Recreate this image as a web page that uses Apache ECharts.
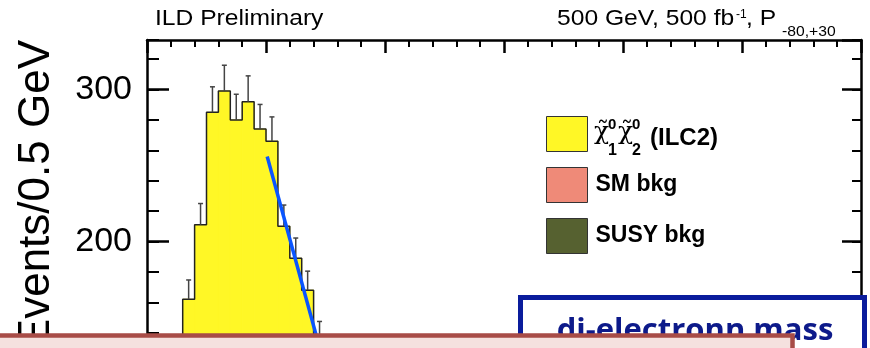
<!DOCTYPE html>
<html><head><meta charset="utf-8">
<script src="https://cdn.jsdelivr.net/npm/echarts@6/dist/echarts.min.js"></script>
<style>html,body{margin:0;padding:0;background:#fff}#c{width:870px;height:348px}</style>
</head><body><div id="c"></div>
<script>
// ---- data ----
const binEdges = [1.5, 2.0, 2.5, 3.0, 3.5, 4.0, 4.5, 5.0, 5.5, 6.0, 6.5, 7.0, 7.5];
const signalCounts = [162, 211, 285, 299, 280, 292, 274, 266, 210, 189, 168, 136];
const signalErrors = [12.7, 14, 16.8, 17, 16.9, 17, 16.2, 16, 14, 13.3, 12.5, 11.4];
const smBkg = [];
const susyBkg = [];
const fitX = [5.05, 7.5];
const fitY = [256, 116];
const seriesNames = ['signal', 'SM bkg', 'SUSY bkg'];
const yMin = 100, yMax = 332.6, xMin = 0, xMax = 30;

const histData = signalCounts.map((v, i) => [binEdges[i], binEdges[i + 1], v]);
const outline = [[binEdges[0], yMin]];
signalCounts.forEach((v, i) => { outline.push([binEdges[i], v], [binEdges[i + 1], v]); });
outline.push([binEdges[binEdges.length - 1], yMin]);
const errData = signalCounts.map((v, i) => [(binEdges[i] + binEdges[i + 1]) / 2, v, v + signalErrors[i]]);
const fitData = fitX.map((x, i) => [x, fitY[i]]);

const FONT = 'Liberation Sans';
const chart = echarts.init(document.getElementById('c'));
const yAxisBase = {type: 'value', min: yMin, max: yMax, splitLine: {show: false}, axisLabel: {show: false}};
chart.setOption({
  animation: false,
  textStyle: {fontFamily: FONT},
  grid: {left: 147, top: 40, width: 714, height: 353.5, outerBoundsMode: 'none', containLabel: false},
  xAxis: [{
    type: 'value', min: xMin, max: xMax, interval: 5, position: 'top',
    axisLine: {show: true, lineStyle: {color: '#000', width: 2.5}},
    axisTick: {show: true, inside: true, length: 13, lineStyle: {color: '#000', width: 2.5}},
    minorTick: {show: true, splitNumber: 5, length: 7, lineStyle: {color: '#000', width: 2}},
    axisLabel: {show: false}, splitLine: {show: false}
  }],
  yAxis: [
    Object.assign({}, yAxisBase, {position: 'left', interval: 100,
      axisLine: {show: true, lineStyle: {color: '#000', width: 2.5}},
      axisTick: {show: true, inside: true, length: 22, lineStyle: {color: '#000', width: 2.5}},
      axisLabel: {show: true, fontSize: 34, color: '#000', margin: 15, showMaxLabel: false, showMinLabel: false}}),
    Object.assign({}, yAxisBase, {position: 'left', interval: 20,
      axisLine: {show: false},
      axisTick: {show: true, inside: true, length: 12, lineStyle: {color: '#000', width: 2}}}),
    Object.assign({}, yAxisBase, {position: 'right', interval: 100,
      axisLine: {show: true, lineStyle: {color: '#000', width: 2.5}},
      axisTick: {show: true, inside: true, length: 19, lineStyle: {color: '#000', width: 2.5}}}),
    Object.assign({}, yAxisBase, {position: 'right', interval: 20,
      axisLine: {show: false},
      axisTick: {show: true, inside: true, length: 9, lineStyle: {color: '#000', width: 2}}})
  ],
  legend: {
    orient: 'vertical', left: 546, top: 116, padding: 0, itemWidth: 41, itemHeight: 35, itemGap: 15,
    icon: 'rect', selectedMode: false, data: seriesNames,
    itemStyle: {borderColor: '#333', borderWidth: 1},
    formatter: n => n === 'signal' ? '' : n,
    textStyle: {fontFamily: FONT, fontWeight: 'bold', fontSize: 23, color: '#000', padding: [0, 0, 0, 3]}
  },
  series: [
    {name: 'signal', type: 'custom', data: histData, encode: {x: [0, 1], y: 2}, z: 2,
      itemStyle: {color: '#fff726'},
      renderItem: (params, api) => {
        const p0 = api.coord([api.value(0), api.value(2)]);
        const p1 = api.coord([api.value(1), yMin]);
        return {type: 'rect', shape: {x: p0[0], y: p0[1], width: p1[0] - p0[0], height: p1[1] - p0[1]},
          style: {fill: '#fff726', stroke: '#fff726', lineWidth: 1}};
      }},
    {name: 'SM bkg', type: 'bar', data: smBkg, itemStyle: {color: '#ef8a78'}},
    {name: 'SUSY bkg', type: 'bar', data: susyBkg, itemStyle: {color: '#566130'}},
    {name: 'outline', type: 'line', data: outline, symbol: 'none', z: 3,
      lineStyle: {color: '#222', width: 1.5}},
    {name: 'errors', type: 'custom', data: errData, encode: {x: 0, y: [1, 2]}, z: 4,
      renderItem: (params, api) => {
        const a = api.coord([api.value(0), api.value(1)]);
        const b = api.coord([api.value(0), api.value(2)]);
        const st = {stroke: '#444', lineWidth: 1.5};
        return {type: 'group', children: [
          {type: 'line', shape: {x1: a[0], y1: a[1], x2: b[0], y2: b[1]}, style: st},
          {type: 'line', shape: {x1: b[0] - 2.5, y1: b[1], x2: b[0] + 2.5, y2: b[1]}, style: st}
        ]};
      }},
    {name: 'fit', type: 'line', data: fitData, symbol: 'none', z: 5,
      lineStyle: {color: '#0a55ff', width: 3.5}}
  ],
  graphic: [
    {type: 'text', x: 37, y: 40, rotation: Math.PI / 2, z: 50,
      style: {text: 'Events/0.5 GeV', font: '44px ' + FONT, fill: '#000', align: 'right', verticalAlign: 'middle'}},
    {type: 'text', x: 155, y: 19, scaleX: 1.12, z: 50,
      style: {text: 'ILD Preliminary', font: '22px ' + FONT, fill: '#000', align: 'left', verticalAlign: 'middle'}},
    {type: 'text', x: 557, y: 19, scaleX: 1.12, z: 50,
      style: {text: '500 GeV, 500 fb', font: '22px ' + FONT, fill: '#000', align: 'left', verticalAlign: 'middle'}},
    {type: 'text', x: 736, y: 15, z: 50,
      style: {text: '-1', font: '12px ' + FONT, fill: '#000', align: 'left', verticalAlign: 'middle'}},
    {type: 'text', x: 746, y: 19, scaleX: 1.12, z: 50,
      style: {text: ', P', font: '22px ' + FONT, fill: '#000', align: 'left', verticalAlign: 'middle'}},
    {type: 'text', x: 782, y: 32, scaleX: 1.12, z: 50,
      style: {text: '-80,+30', font: '14px ' + FONT, fill: '#000', align: 'left', verticalAlign: 'middle'}},
    // legend label of signal
    {type: 'text', x: 594, y: 132, z: 50,
      style: {text: 'χ\u0303', font: '25px "DejaVu Serif"', fill: '#000', align: 'left', verticalAlign: 'middle'}},
    {type: 'text', x: 608, y: 125, z: 50,
      style: {text: '0', font: 'bold 15px ' + FONT, fill: '#000', align: 'left', verticalAlign: 'middle'}},
    {type: 'text', x: 608, y: 151, z: 50,
      style: {text: '1', font: 'bold 16px ' + FONT, fill: '#000', align: 'left', verticalAlign: 'middle'}},
    {type: 'text', x: 618, y: 132, z: 50,
      style: {text: 'χ\u0303', font: '25px "DejaVu Serif"', fill: '#000', align: 'left', verticalAlign: 'middle'}},
    {type: 'text', x: 632, y: 125, z: 50,
      style: {text: '0', font: 'bold 15px ' + FONT, fill: '#000', align: 'left', verticalAlign: 'middle'}},
    {type: 'text', x: 632, y: 151, z: 50,
      style: {text: '2', font: 'bold 16px ' + FONT, fill: '#000', align: 'left', verticalAlign: 'middle'}},
    {type: 'text', x: 650, y: 138, z: 50,
      style: {text: '(ILC2)', font: 'bold 24px ' + FONT, fill: '#000', align: 'left', verticalAlign: 'middle'}},
    // slide overlays
    {type: 'rect', z: 100, shape: {x: 520.5, y: 297.5, width: 344, height: 100},
      style: {fill: '#fff', stroke: '#0a1c9c', lineWidth: 5}},
    {type: 'text', x: 695, y: 331, z: 101,
      style: {text: 'di-electronn mass', font: 'bold 31px "Open Sans"', fill: '#0d1a8a', align: 'center', verticalAlign: 'middle'}},
    {type: 'rect', z: 110, shape: {x: -10, y: 335.5, width: 802.5, height: 100},
      style: {fill: '#f5e1df', stroke: '#a84c47', lineWidth: 4.5}}
  ]
});
</script></body></html>
